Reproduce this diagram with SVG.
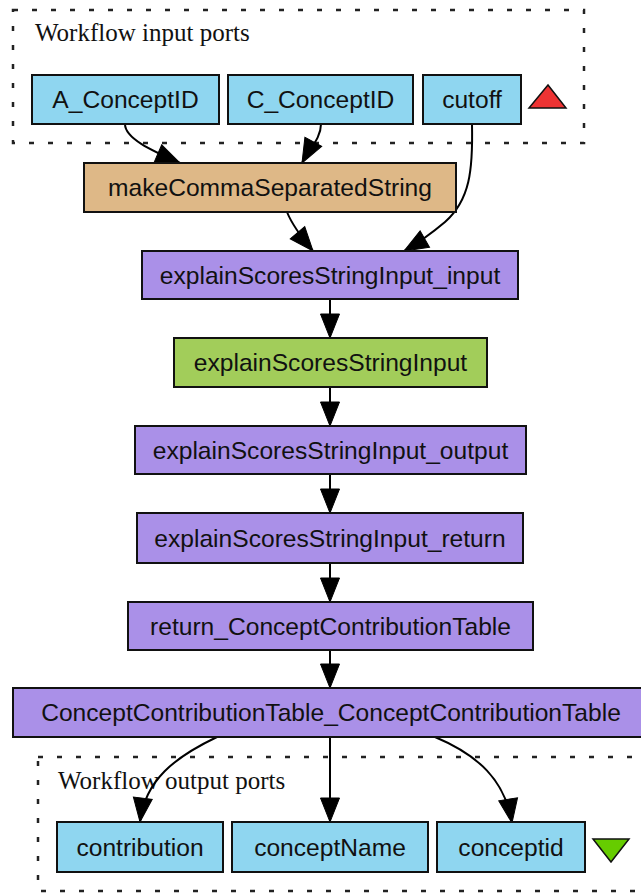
<svg xmlns="http://www.w3.org/2000/svg" width="641" height="895" viewBox="0 0 641 895">
<style>
.bg{fill:#ffffff}
.cluster{fill:none;stroke:#222;stroke-width:2.5;stroke-dasharray:5,14}
.ctitle{font-family:"Liberation Serif",serif;font-size:25px;fill:#111}
.box{stroke:#111;stroke-width:2}
.port{fill:#8fd6f0}
.bean{fill:#deb887}
.xml{fill:#aa90e8}
.wsdl{fill:#a2cd5a}
.lbl{font-family:"Liberation Sans",Arial,sans-serif;font-size:24.6px;fill:#111;text-anchor:middle}
.edge{fill:none;stroke:#000;stroke-width:2}
</style>
<defs>
<marker id="ah" markerUnits="userSpaceOnUse" markerWidth="26" markerHeight="22" viewBox="0 0 26 22" refX="25" refY="11" orient="auto">
<path d="M1,1.5 L25,11 L1,20.5 z" fill="#000" stroke="#000" stroke-width="1"/>
</marker>
</defs>
<rect class="bg" x="0" y="0" width="641" height="895"/>

<g id="cluster_inputs">
<rect class="cluster" x="13" y="10" width="571" height="133"/>
<text class="ctitle" x="35" y="41">Workflow input ports</text>
<polygon points="548,85 529,108 566,108" fill="#ee3333" stroke="#111" stroke-width="1.5"/>
</g>

<g id="cluster_outputs">
<rect class="cluster" x="38" y="757" width="640" height="134"/>
<text class="ctitle" x="58" y="789">Workflow output ports</text>
<polygon points="593,839 629,839 611,862" fill="#66cc00" stroke="#111" stroke-width="1.5"/>
</g>

<g id="connectors">
<path class="edge" marker-end="url(#ah)" d="M125,124 C125,138 150,150 180,163"/>
<path class="edge" marker-end="url(#ah)" d="M321,124 C321,138 310,148 302,163"/>
<path class="edge" marker-end="url(#ah)" d="M472,124 C473,170 470,200 445,222 C432,233 418,243 404,251"/>
<path class="edge" marker-end="url(#ah)" d="M287,212 C291,222 302,238 313,251"/>
<path class="edge" marker-end="url(#ah)" d="M330,299 L330,338"/>
<path class="edge" marker-end="url(#ah)" d="M330,387 L330,426"/>
<path class="edge" marker-end="url(#ah)" d="M330,474 L330,513"/>
<path class="edge" marker-end="url(#ah)" d="M330,563 L330,602"/>
<path class="edge" marker-end="url(#ah)" d="M330,650 L330,688"/>
<path class="edge" marker-end="url(#ah)" d="M217,737 C175,757 145,780 140,822"/>
<path class="edge" marker-end="url(#ah)" d="M330,737 L330,822"/>
<path class="edge" marker-end="url(#ah)" d="M435,737 C478,755 505,780 512,823"/>
</g>

<g id="A_ConceptID"><rect class="box port" x="32" y="75" width="187" height="49"/><text class="lbl" x="125.5" y="108">A_ConceptID</text></g>
<g id="C_ConceptID"><rect class="box port" x="228" y="75" width="185" height="49"/><text class="lbl" x="320.5" y="108">C_ConceptID</text></g>
<g id="cutoff"><rect class="box port" x="423" y="75" width="98" height="49"/><text class="lbl" x="472" y="108">cutoff</text></g>
<g id="makeCommaSeparatedString"><rect class="box bean" x="84" y="163" width="372" height="49"/><text class="lbl" x="270" y="196">makeCommaSeparatedString</text></g>
<g id="explainScoresStringInput_input"><rect class="box xml" x="142" y="251" width="376" height="48"/><text class="lbl" x="330" y="283.5">explainScoresStringInput_input</text></g>
<g id="explainScoresStringInput"><rect class="box wsdl" x="174" y="338" width="313" height="49"/><text class="lbl" x="330.5" y="371">explainScoresStringInput</text></g>
<g id="explainScoresStringInput_output"><rect class="box xml" x="135" y="426" width="391" height="48"/><text class="lbl" x="330.5" y="458.5">explainScoresStringInput_output</text></g>
<g id="explainScoresStringInput_return"><rect class="box xml" x="137" y="513" width="386" height="50"/><text class="lbl" x="330" y="546.5">explainScoresStringInput_return</text></g>
<g id="return_ConceptContributionTable"><rect class="box xml" x="128" y="602" width="405" height="48"/><text class="lbl" x="330.5" y="634.5">return_ConceptContributionTable</text></g>
<g id="ConceptContributionTable_ConceptContributionTable"><rect class="box xml" x="13" y="688" width="634" height="49"/><text class="lbl" x="331" y="721">ConceptContributionTable_ConceptContributionTable</text></g>
<g id="contribution"><rect class="box port" x="57" y="822" width="166" height="50"/><text class="lbl" x="140" y="855.5">contribution</text></g>
<g id="conceptName"><rect class="box port" x="232" y="822" width="196" height="50"/><text class="lbl" x="330" y="855.5">conceptName</text></g>
<g id="conceptid"><rect class="box port" x="437" y="822" width="148" height="50"/><text class="lbl" x="511" y="855.5">conceptid</text></g>
</svg>
